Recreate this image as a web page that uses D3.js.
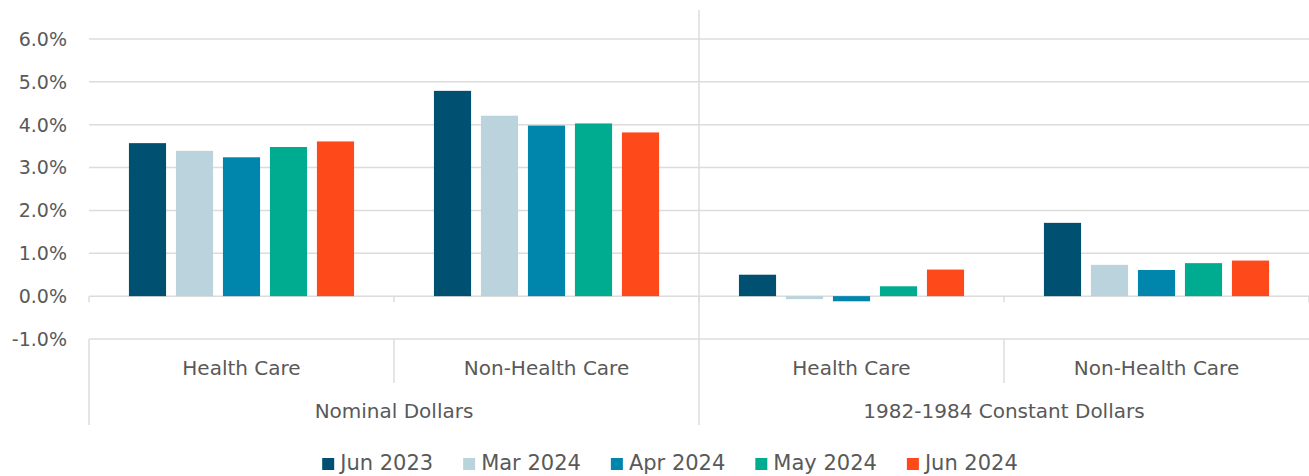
<!DOCTYPE html>
<head>
  <meta charset="utf-8">
  <script src="https://d3js.org/d3.v7.min.js"></script>
  <style>
    body { margin:0; background:#fff; }
    text { font-family: "DejaVu Sans", sans-serif; fill:#595959; }
  </style>
</head>
<body>
  <div class="chart"></div>
  <script>
    // data
    const groups = ['Nominal Dollars', '1982-1984 Constant Dollars'];
    const categories = ['Health Care', 'Non-Health Care'];
    const series = ['Jun 2023', 'Mar 2024', 'Apr 2024', 'May 2024', 'Jun 2024'];
    const colors = ['#005072', '#BBD3DC', '#0085AD', '#00AC8F', '#FE491A'];
    const nominalHealth = [3.57, 3.39, 3.24, 3.48, 3.61];
    const nominalNonHealth = [4.79, 4.21, 3.98, 4.03, 3.82];
    const constantHealth = [0.50, -0.07, -0.12, 0.23, 0.62];
    const constantNonHealth = [1.71, 0.73, 0.61, 0.77, 0.83];
    const yTicks = [-1, 0, 1, 2, 3, 4, 5, 6];

    const clusters = [
      { group: groups[0], cat: categories[0], values: nominalHealth },
      { group: groups[0], cat: categories[1], values: nominalNonHealth },
      { group: groups[1], cat: categories[0], values: constantHealth },
      { group: groups[1], cat: categories[1], values: constantNonHealth }
    ];

    const W = 1309, H = 476;
    const m = { left: 89, right: 1309, top: 39, bottom: 339 };
    const gridColor = '#DCDCDC';

    const svg = d3.select('.chart').append('svg')
      .attr('width', W).attr('height', H);

    const y = d3.scaleLinear().domain([-1, 6]).range([m.bottom, m.top]);

    const x0 = d3.scaleBand()
      .domain(clusters.map((d, i) => i))
      .range([m.left, m.right]);

    const pad = 35;
    const x1 = d3.scaleBand()
      .domain(series)
      .range([pad, x0.bandwidth() - pad])
      .paddingInner(0.21)
      .paddingOuter(0.105);

    // gridlines + y labels
    svg.append('g').selectAll('line').data(yTicks).join('line')
      .attr('x1', m.left).attr('x2', m.right)
      .attr('y1', d => y(d)).attr('y2', d => y(d))
      .attr('stroke', gridColor).attr('stroke-width', 1.5);

    svg.append('g').selectAll('text').data(yTicks).join('text')
      .attr('x', 67).attr('y', d => y(d))
      .attr('dy', '0.36em')
      .attr('text-anchor', 'end')
      .style('font-size', '19px')
      .text(d => d.toFixed(1) + '%');

    // ticks on zero line at cluster boundaries
    const bounds = d3.range(clusters.length + 1).map(i => i < clusters.length ? x0(i) : m.right);
    svg.append('g').selectAll('line').data(bounds).join('line')
      .attr('x1', d => d).attr('x2', d => d)
      .attr('y1', y(0)).attr('y2', y(0) + 6)
      .attr('stroke', gridColor).attr('stroke-width', 1.5);

    // bars
    svg.append('g').selectAll('g').data(clusters).join('g')
      .attr('transform', (d, i) => `translate(${x0(i)},0)`)
      .selectAll('rect')
      .data(d => d.values.map((v, j) => ({ key: series[j], v, c: colors[j] })))
      .join('rect')
      .attr('x', d => x1(d.key))
      .attr('width', x1.bandwidth())
      .attr('y', d => y(Math.max(0, d.v)))
      .attr('height', d => Math.abs(y(d.v) - y(0)))
      .attr('fill', d => d.c);

    // multi-level category axis
    const axisG = svg.append('g');
    axisG.append('line')
      .attr('x1', m.left).attr('x2', m.left).attr('y1', m.bottom).attr('y2', 425)
      .attr('stroke', gridColor).attr('stroke-width', 1.5);
    axisG.append('line')
      .attr('x1', x0(2)).attr('x2', x0(2)).attr('y1', 10).attr('y2', 425)
      .attr('stroke', gridColor).attr('stroke-width', 1.5);
    [x0(1), x0(3)].forEach(px => {
      axisG.append('line')
        .attr('x1', px).attr('x2', px).attr('y1', m.bottom).attr('y2', 383)
        .attr('stroke', gridColor).attr('stroke-width', 1.5);
    });

    axisG.selectAll('.cat').data(clusters).join('text')
      .attr('class', 'cat')
      .attr('x', (d, i) => x0(i) + x0.bandwidth() / 2)
      .attr('y', 375)
      .attr('text-anchor', 'middle')
      .style('font-size', '20px')
      .text(d => d.cat);

    axisG.selectAll('.grp').data(groups).join('text')
      .attr('class', 'grp')
      .attr('x', (d, i) => x0(i * 2) + x0.bandwidth())
      .attr('y', 418)
      .attr('text-anchor', 'middle')
      .style('font-size', '20px')
      .text(d => d);

    // legend
    const legend = svg.append('g');
    const items = legend.selectAll('g').data(series).join('g');
    items.append('rect')
      .attr('width', 12).attr('height', 12)
      .attr('y', -10)
      .attr('fill', (d, i) => colors[i]);
    items.append('text')
      .attr('x', 18).attr('y', 0).attr('dy', '0.1em')
      .style('font-size', '21px')
      .text(d => d);
    let cx = 0;
    items.each(function () {
      const w = this.getBBox().width;
      d3.select(this).attr('transform', `translate(${cx},0)`);
      cx += w + 30;
    });
    const total = cx - 30;
    legend.attr('transform', `translate(${670 - total / 2},468)`);
  </script>
</body>
</html>
